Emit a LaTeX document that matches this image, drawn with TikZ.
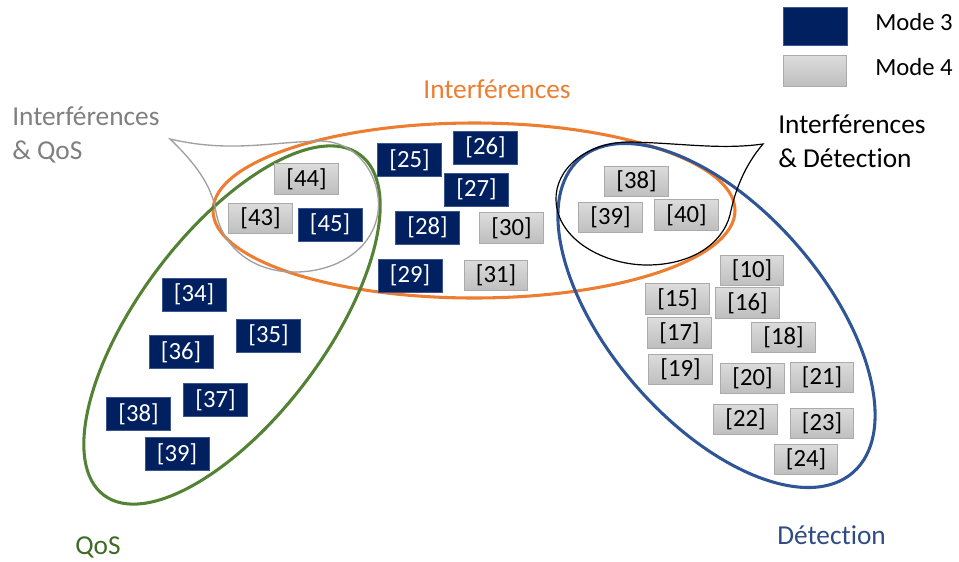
\documentclass[tikz,border=0pt]{standalone}
\usepackage{fontspec}
\setmainfont{Carlito}[Ligatures=NoCommon]
\definecolor{navy}{HTML}{002060}
\definecolor{navyedge}{HTML}{3A5590}
\definecolor{grayA}{HTML}{DCDCDC}
\definecolor{grayB}{HTML}{BEBEBE}
\definecolor{grayedge}{HTML}{ABABAB}
\definecolor{orangec}{HTML}{ED7D31}
\definecolor{greenc}{HTML}{548235}
\definecolor{greentext}{HTML}{3E6B25}
\definecolor{bluec}{HTML}{2F5597}
\definecolor{bluetext}{HTML}{2F4B85}
\definecolor{callgray}{HTML}{A0A0A0}
\definecolor{graytext}{HTML}{7F7F7F}
\begin{document}
\begin{tikzpicture}[x=0.75pt,y=-0.75pt,
  mthree/.style={fill=navy, draw=navyedge, line width=0.4pt, text=white,
    minimum width=48pt, minimum height=24.5pt, inner sep=0pt,
    font=\fontsize{18.5}{20}\selectfont},
  mfour/.style={top color=grayA, bottom color=grayB, draw=grayedge, line width=0.6pt,
    text=black, minimum width=47.5pt, minimum height=23pt, inner sep=0pt,
    font=\fontsize{18.5}{20}\selectfont},
  lbl/.style={inner sep=0pt, font=\fontsize{20.5}{25.5}\selectfont, align=left},
  leg/.style={inner sep=0pt, font=\fontsize{18.5}{20}\selectfont},
  bigell/.style={line width=2.3pt}]
\useasboundingbox (0,0) rectangle (959,561);

% big ellipses
\draw[bigell, orangec] (474,210.5) ellipse [x radius=261, y radius=87.5];
\draw[bigell, greenc, rotate around={53:(232,325)}] (232,325) ellipse [x radius=213, y radius=93];
\draw[bigell, bluec, rotate around={-49:(716.5,315.5)}] (716.5,315.5) ellipse [x radius=208, y radius=107];

% callouts
\draw[callgray, line width=1pt] (170,139) .. controls (230,153) and (270,142) .. (320,141)
  .. controls (360,141) and (382,180) .. (378,212)
  .. controls (373,250) and (335,273) .. (292,272)
  .. controls (250,271) and (222,245) .. (216,212)
  .. controls (212,185) and (194,162) .. (170,139) -- cycle;
\draw[black, line width=0.9pt] (763,144) .. controls (720,150) and (680,143) .. (630,142)
  .. controls (585,142) and (555,170) .. (556,200)
  .. controls (557,240) and (605,265) .. (647,265)
  .. controls (690,265) and (722,245) .. (730,215)
  .. controls (735,190) and (745,165) .. (763,144) -- cycle;

% labels
\node[lbl, anchor=west, text=graytext] (lintqos) at (12,135) {Interférences\\\& QoS};
\node[lbl, text=orangec] (lint) at (497,89) {Interférences};
\node[lbl, anchor=west, text=black] (lintdet) at (778,141) {Interférences\\\& Détection};
\node[lbl, anchor=west, text=bluetext] (ldet) at (777,535) {Détection};
\node[lbl, anchor=west, text=greentext] (lqos) at (75,547) {QoS};

% legend
\node[mthree, minimum height=28.5pt] (leg3) at (815,26) {};
\node[mfour] (leg4) at (815,71) {};
\node[leg, anchor=west] (tleg3) at (875,22) {Mode 3};
\node[leg, anchor=west] (tleg4) at (875,67) {Mode 4};

% interference & QoS
\node[mfour] (b44) at (306.5,179) {[44]};
\node[mfour] (b43) at (260.5,218.5) {[43]};
\node[mthree] (b45) at (330,224.5) {[45]};

% interference
\node[mthree] (b25) at (409.5,160) {[25]};
\node[mthree] (b26) at (485.5,147.5) {[26]};
\node[mthree] (b27) at (476.5,189.5) {[27]};
\node[mthree] (b28) at (427.5,227.5) {[28]};
\node[mfour] (b30) at (511.5,228) {[30]};
\node[mthree] (b29) at (410,275.5) {[29]};
\node[mfour] (b31) at (496,275.5) {[31]};

% interference & detection
\node[mfour] (d38) at (636.5,181.5) {[38]};
\node[mfour] (d39) at (610.5,217.5) {[39]};
\node[mfour] (d40) at (686.5,215) {[40]};

% detection
\node[mfour] (b10) at (752,270.5) {[10]};
\node[mfour] (b15) at (677.5,299) {[15]};
\node[mfour] (b16) at (747.5,303) {[16]};
\node[mfour] (b17) at (679.5,333) {[17]};
\node[mfour] (b18) at (783.5,337.5) {[18]};
\node[mfour] (b19) at (680.5,369.5) {[19]};
\node[mfour] (b20) at (752.5,378.5) {[20]};
\node[mfour] (b21) at (822,377.5) {[21]};
\node[mfour] (b22) at (745.5,419.5) {[22]};
\node[mfour] (b23) at (822,423.5) {[23]};
\node[mfour] (b24) at (806,459.5) {[24]};

% QoS
\node[mthree] (b34) at (194,294.5) {[34]};
\node[mthree] (b35) at (268.5,335.5) {[35]};
\node[mthree] (b36) at (181,352) {[36]};
\node[mthree] (b37) at (215.5,400) {[37]};
\node[mthree] (q38) at (138.5,414) {[38]};
\node[mthree] (q39) at (177,454) {[39]};
\end{tikzpicture}
\end{document}
